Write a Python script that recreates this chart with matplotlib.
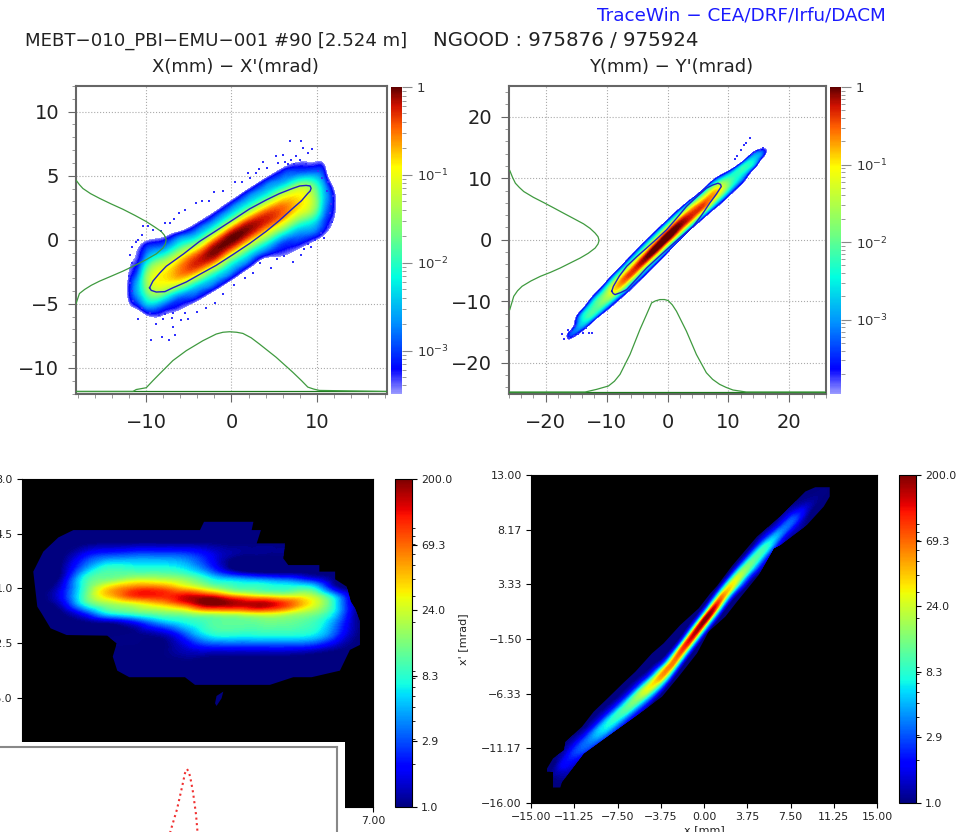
"""
TraceWin MEBT emittance comparison: two simulated phase spaces (top)
and two measured ones (bottom).
"""

import numpy as np
import matplotlib
matplotlib.use("Agg")
import matplotlib.pyplot as plt
from matplotlib.cm import ScalarMappable
from matplotlib.colors import LinearSegmentedColormap, LogNorm
from matplotlib.patches import Polygon, Rectangle
from matplotlib.ticker import MultipleLocator, NullFormatter
from matplotlib.tri import Triangulation, UniformTriRefiner

W, H = 960, 832

# ---- panel A, X - X' : log10 density on x stations / offsets from the beam axis
a_slope = 0.42
a_x = [-13, -12, -11, -10, -8, -6, -4, -2, 0, 2, 4, 6, 8, 10, 11, 12, 13]
a_v = [-5, -4, -3, -2, -1, 0, 1, 2, 3, 4, 5]
a_log = [
    [-5, -5, -5, -5, -5, -5, -5, -5, -5, -5, -5],
    [-5, -5, -5, -5, -4.5, -3.6, -3.3, -3.4, -3.6, -4, -5],
    [-5, -5, -5, -5, -3.8, -2.8, -2.5, -2.9, -3.3, -3.6, -5],
    [-5, -5, -5, -4, -2.7, -1.9, -1.6, -2, -2.8, -3.4, -5],
    [-5, -5, -4, -3.1, -1.9, -0.95, -1, -1.9, -3, -4, -5],
    [-5, -5, -3.6, -2.9, -1.4, -0.55, -0.9, -2, -3.2, -5, -5],
    [-5, -5, -3.4, -2.5, -1.0, -0.25, -1.0, -2.4, -3.5, -5, -5],
    [-5, -5, -3.3, -2.3, -0.8, -0.05, -0.9, -2.4, -3.5, -5, -5],
    [-5, -5, -3.3, -2.3, -0.9, 0, -0.8, -2.3, -3.4, -5, -5],
    [-5, -5, -3.4, -2.3, -0.9, -0.08, -0.9, -2.3, -3.3, -5, -5],
    [-5, -5, -3.4, -2.2, -0.85, -0.25, -1.1, -2.4, -3.3, -5, -5],
    [-5, -3.7, -3.1, -2.1, -0.8, -0.5, -1.3, -2.6, -3.4, -5, -5],
    [-5, -3.5, -2.8, -1.9, -0.95, -0.9, -1.7, -3, -3.8, -5, -5],
    [-5, -3.3, -2.6, -1.9, -1.7, -2, -2.8, -3.6, -5, -5, -5],
    [-5, -3.4, -3, -2.7, -2.6, -3, -3.5, -4.2, -5, -5, -5],
    [-5, -3.8, -3.4, -3.3, -3.6, -4.5, -5, -5, -5, -5, -5],
    [-5, -5, -5, -5, -5, -5, -5, -5, -5, -5, -5],
]
a_ell_x = [-9.59, -9.4, -8.81, -7.8, -6.86, -5.3, -3.74, -1.8, 0.16, 2.1, 4.05, 5.6, 7.17, 8.2, 8.93, 9.2, 9.32,
           9.2, 8.73, 8.0, 7.17, 5.6, 4.05, 2.1, 0.16, -1.8, -3.74, -5.6, -7.64, -8.4, -9.2, -9.59]
a_ell_y = [-3.75, -3.95, -4.08, -4.05, -3.75, -3.3, -2.71, -2.0, -1.16, -0.3, 0.65, 1.5, 2.45, 3.05, 3.62, 3.8, 4.01,
           4.2, 4.24, 4.2, 4.01, 3.6, 3.10, 2.4, 1.55, 0.7, -0.13, -1.1, -2.07, -2.6, -3.23, -3.75]
a_left_x = [-18.25, -17.8, -17.39, -16.5, -15.44, -14.1, -12.71, -11.3, -9.98, -9.0, -8.23, -7.85, -7.64, -7.75, -8.03,
            -8.8, -9.98, -11.3, -12.71, -14.1, -15.44, -16.4, -17.19, -17.8, -18.09, -18.2]
a_left_y = [4.70, 4.3, 4.0, 3.6, 3.23, 2.8, 2.38, 1.9, 1.42, 1.0, 0.65, 0.35, 0, -0.35, -0.65,
            -1.1, -1.55, -2.0, -2.45, -2.85, -3.23, -3.55, -3.88, -4.2, -4.78, -5.0]
a_bot_x = [-18.17, -11.54, -11.15, -9.98, -9.2, -8.42, -6.86, -5.3, -3.35, -1.79, -1.0, -0.23, 0.6, 1.33, 2.3, 3.27,
           5.22, 7.17, 8.2, 8.93, 9.6, 10.29, 18.09]
a_bot_y = [-11.84, -11.84, -11.69, -11.55, -11.0, -10.47, -9.43, -8.66, -7.88, -7.36, -7.22, -7.18, -7.22, -7.31, -7.65, -8.14,
           -9.17, -10.34, -11.0, -11.5, -11.65, -11.76, -11.84]
a_spk_x = [6.8, 8.1, 8.4, 8.9, 9.4, 5.2, 6.0, 7.0, 8.0, 3.7, 2.9, 1.9, -2.0, -2.6, -6.1, -6.7, -7.8, -10.4, -9.8, -11.0,
           -11.7, -11.7, -11.9, -11.5, -11.0, -9.4, -8.1, -7.3, -6.6, -8.8, -8.0, -6.9, -5.9, -5.1, -6.9, -1.9, 4.6, 3.3,
           7.2, 8.1, 9.3, 10.5, 11.5, 11.9, 11.3,
           5.5, 6.3, 6.6, 7.3, 7.6, 8.7, 9.5, 10.1, 10.6, 11.2, 11.6, 11.8, 11.3, 10.8, 9.8, 9.0, 8.5,
           6.1, 5.3, 2.5, 1.6, 0.3, -1, -3, -4, -5.5, -7, -7.8, -8.5, -9.5, -10.5, -11.6, -12, -11.9, -11.2, -10.5,
           -9.2, -8.2, -7.2, -5.5, -4.2, -3.5, -1, 0.4, 1.2, 2.2, 3.2, 4.2]
a_spk_y = [7.7, 7.7, 7.2, 6.8, 7.1, 6.5, 6.6, 6.2, 6.2, 6.1, 5.2, 5.2, 3.7, 3.0, 2.1, 1.6, 1.3, 1.1, 1.1, 0,
           -0.6, -1.8, -3.4, -4.8, -6.2, -7.8, -7.6, -7.8, -7.4, -6.6, -6.2, -6.8, -6.3, -6.2, -5.7, -4.9, -2.2, -1.8,
           -1.7, -1.2, -0.6, 0.5, 2.1, 3.4, 4.5,
           6.0, 6.1, 5.9, 5.9, 6.5, 5.9, 5.8, 5.4, 4.8, 3.8, 2.8, 1.4, 1.0, 0.1, 0, -0.3, -0.7,
           -1.3, -1.5, -2.6, -3, -3.5, -4.2, -5.3, -5.6, -5.7, -6.1, -5.8, -5.9, -5.7, -5.3, -4, -2.8, -1.2, -0.2, 0.4,
           0.8, 0.7, 1.3, 2.3, 2.9, 3.0, 3.8, 4.5, 4.5, 4.8, 5.5, 5.6]

# ---- panel B, Y - Y'
b_slope = 1.0
b_x = [-17, -16, -14, -12, -10, -8, -6, -4, -2, 0, 2, 4, 6, 8, 10, 12, 14, 15.5, 17]
b_v = [-4, -3, -2, -1, 0, 1, 2, 3, 4]
b_log = [
    [-5, -5, -5, -5, -5, -5, -5, -5, -5],
    [-5, -5, -5, -5, -3.8, -3.7, -5, -5, -5],
    [-5, -5, -5, -4.2, -2.9, -2.6, -3, -4.5, -5],
    [-5, -5, -5, -3.8, -2.3, -2.1, -2.5, -3.8, -5],
    [-5, -5, -4.5, -3.2, -1.9, -1.6, -2.2, -3.6, -5],
    [-5, -5, -4.2, -2.7, -1.1, -0.8, -1.7, -3.4, -5],
    [-5, -5, -3.9, -2.4, -0.7, -0.55, -1.7, -3.3, -5],
    [-5, -5, -3.8, -2.2, -0.5, -0.3, -1.6, -3.2, -5],
    [-5, -5, -3.8, -2, -0.2, -0.1, -1.5, -3.3, -5],
    [-5, -5, -3.8, -1.9, -0.05, -0.05, -1.5, -3.5, -5],
    [-5, -5, -3.8, -1.6, -0.15, -0.3, -1.8, -3.8, -5],
    [-5, -5, -3.7, -1.3, -0.3, -0.8, -2.4, -4.5, -5],
    [-5, -4.5, -3.2, -1.0, -0.5, -1.4, -3.2, -5, -5],
    [-5, -4.3, -2.7, -1.2, -0.9, -2, -3.8, -5, -5],
    [-5, -4, -2.6, -1.9, -2.2, -3.6, -5, -5, -5],
    [-5, -3.8, -2.8, -2.3, -2.9, -5, -5, -5, -5],
    [-5, -4.5, -2.9, -2.6, -3.6, -5, -5, -5, -5],
    [-5, -5, -3.6, -3.5, -5, -5, -5, -5, -5],
    [-5, -5, -5, -5, -5, -5, -5, -5, -5],
]
b_ell_x = [-9.15, -8.9, -8.61, -7.7, -6.70, -5.1, -3.43, -1.8, -0.16, 2.0, 4.19, 5.6, 6.92, 8.0, 8.82, 8.7, 8.28,
           7.4, 6.37, 4.7, 3.10, 1.5, -0.16, -1.8, -3.43, -5.1, -6.70, -7.9, -8.88, -9.15]
b_ell_y = [-8.38, -8.75, -8.92, -8.6, -8.11, -6.4, -4.59, -3.1, -1.62, 0.3, 2.16, 4.0, 5.95, 7.4, 8.65, 9.0, 9.19,
           8.9, 8.38, 6.9, 5.41, 3.5, 1.62, 0.1, -1.35, -2.8, -4.32, -5.9, -7.57, -8.38]
b_left_x = [-25.87, -25.4, -24.95, -24.3, -23.58, -22, -20.32, -18.7, -17.05, -15.4, -13.78, -12.7, -11.87, -11.4, -11.22,
            -11.4, -11.87, -13, -14.32, -16, -17.59, -19.2, -20.86, -22.4, -23.86, -24.6, -25.22, -25.87]
b_left_y = [11.24, 10.1, 9.19, 8.5, 7.84, 6.9, 6.05, 5.2, 4.32, 3.45, 2.59, 1.85, 1.08, 0.5, -0.11,
            -0.7, -1.35, -2.2, -2.97, -3.8, -4.59, -5.3, -5.95, -6.7, -7.57, -8.3, -9.19, -11.35]
b_bot_x = [-25.87, -13.51, -11.6, -9.69, -8.7, -7.79, -6.15, -4.52, -3.5, -2.61, -2, -1.25, -0.5, 0.11, 0.8, 1.47, 3.1, 4.74,
           6.37, 7.4, 8.55, 9.6, 10.73, 12.91, 25.71]
b_bot_y = [-24.76, -24.76, -24.32, -23.78, -23.0, -21.89, -18.65, -14.59, -12.3, -10.27, -9.95, -9.73, -9.72, -9.89, -10.6, -11.62, -14.86, -18.65,
           -21.62, -22.7, -23.51, -24.0, -24.43, -24.76, -24.76]
b_spk_x = [-17.3, -16.9, -16.2, -16.4, -15.4, -13.8, -12.9, -12.4, 12.9, 13.5, 12.6, 12.1, 15.6, 15.1,
           -15.9, -15.2, -14.6, -13.3, 11.4, 11.0, 14.4, 13.9]
b_spk_y = [-15.4, -16.2, -15.9, -14.6, -15.7, -15.1, -15.1, -15.1, 15.7, 16.5, 15.4, 14.6, 14.9, 14.6,
           -14.9, -14.1, -15.3, -14.4, 13.6, 13.1, 14.3, 14.0]

# ---- panel C, measured x - x' : log10 counts on a plain grid, outline of the lowest bin
c_x = [-7, -6.5, -5.5, -4.5, -3.5, -2.5, -1.5, -0.5, 0.5, 1.5, 2.5, 3.5, 4.5, 5.5, 6.5, 7]
c_y = [6, 5, 4, 3, 2, 1.5, 1, 0.5, 0, -0.5, -1, -2, -3, -4, -5, -6]
c_log = [
    [0, 0, 0, 0, 0, 0, 0, 0, 0, 0, 0, 0, 0, 0, 0, 0],
    [0, 0, 0, 0, 0, 0, 0, 0, 0, 0, 0, 0, 0, 0, 0, 0],
    [0, 0, 0, 0, .02, .02, .02, .02, .02, 0, 0, 0, 0, 0, 0, 0],
    [0, 0, 0, .35, .55, .6, .6, .55, .3, .05, 0, 0, 0, 0, 0, 0],
    [0, 0, .03, .75, 1.05, 1.05, 1.05, .95, .6, .2, .05, .04, .02, 0, 0, 0],
    [0, 0, .1, .95, 1.2, 1.4, 1.38, 1.25, .95, .8, .7, .6, .4, .03, 0, 0],
    [0, 0, .2, 1.0, 1.6, 1.85, 1.85, 1.6, 1.3, 1.05, 1.0, .95, .95, .2, 0, 0],
    [0, 0, .25, 1.05, 1.6, 1.95, 2.0, 2.1, 2.05, 1.7, 1.5, 1.4, 1.35, .7, 0, 0],
    [0, 0, .15, .9, 1.25, 1.4, 1.6, 1.9, 2.3, 2.2, 2.2, 1.95, 1.5, .85, 0, 0],
    [0, 0, .03, .45, .95, 1.1, 1.2, 1.3, 1.5, 1.55, 1.65, 1.5, 1.25, .8, 0, 0],
    [0, 0, 0, .1, .3, .5, .8, .95, 1.05, 1.1, 1.15, 1.15, 1.05, .65, .02, 0],
    [0, 0, 0, 0, 0, .05, .1, .45, .85, .9, .9, .9, .85, .45, .02, 0],
    [0, 0, 0, 0, 0, 0, .02, .15, .2, .2, .2, .2, .15, .04, 0, 0],
    [0, 0, 0, 0, 0, 0, 0, 0, 0, 0, 0, 0, 0, 0, 0, 0],
    [0, 0, 0, 0, 0, 0, 0, 0, 0, 0, 0, 0, 0, 0, 0, 0],
    [0, 0, 0, 0, 0, 0, 0, 0, 0, 0, 0, 0, 0, 0, 0, 0],
]
c_edge_x = [-6.55, -6.15, -5.55, -4.95, 0.10, 0.26, 2.23, 2.16, 2.53, 2.36, 3.49, 3.42, 3.62, 4.86, 4.86, 5.49, 5.49, 5.95,
            6.11, 6.28, 6.48, 6.48, 6.08, 5.68, 4.55, 3.82, 2.89, -0.10, -0.50, -2.72, -3.20, -3.38, -3.22, -3.60, -5.22,
            -5.86, -6.22, -6.39]
c_edge_y = [2.07, 3.35, 4.26, 4.73, 4.73, 5.26, 5.26, 4.73, 4.73, 3.88, 3.88, 2.92, 2.49, 2.49, 2.07, 2.07, 1.58, 1.11,
            0.15, -0.28, -1.13, -2.62, -2.94, -4.27, -4.69, -4.69, -5.18, -5.18, -4.69, -4.69, -4.27, -3.37, -2.52, -2.03,
            -1.99, -1.56, -0.60, -0.17]
c_spot_x = [0.76, 0.96, 1.03, 0.76, 0.7]
c_spot_y = [-6.53, -6.04, -5.61, -5.89, -6.36]

# ---- panel D, measured y - y' : log10 counts along the ridge of the beam
d_ridge_x = [-14, -13, -12.2, -11.2, -10, -8.7, -7, -5.2, -4, -2.9, -1.5, 0.26, 1.7, 3.15, 4.3, 5.46, 6.6, 7.8, 9.1, 10.4, 11.3]
d_ridge_y = [-14.2, -13.3, -12.55, -11.6, -10.55, -9.4, -7.9, -6.2, -5.05, -3.85, -1.95, 0.4, 2.35, 4.1, 5.4, 6.7, 7.9, 9.1, 10.3, 11.5, 12.3]
d_width = [1.4, 1.4, 1.45, 1.5, 1.55, 1.6, 1.55, 1.45, 1.35, 1.25, 1.2, 1.15, 1.2, 1.25, 1.3, 1.35, 1.4, 1.4, 1.3, 1.2, 1.2]
d_off = [-1.8, -1.2, -0.8, -0.4, 0, 0.4, 0.8, 1.2, 1.8]
d_log = [
    [0, 0, 0, 0, 0, 0, 0, 0, 0],
    [0, 0, .02, .05, .1, .05, .02, 0, 0],
    [0, .02, .1, .2, .3, .2, .1, .02, 0],
    [0, .02, .15, .3, .45, .35, .15, .02, 0],
    [0, .02, .2, .45, .6, .45, .15, .02, 0],
    [0, .02, .25, .6, .85, .6, .2, .02, 0],
    [0, .02, .3, .7, 1.05, .75, .25, .02, 0],
    [0, .02, .4, .95, 1.4, .95, .3, .02, 0],
    [0, .02, .5, 1.15, 1.65, 1.1, .35, .02, 0],
    [0, .02, .5, 1.25, 1.8, 1.2, .4, .02, 0],
    [0, .02, .5, 1.35, 2.05, 1.35, .4, .02, 0],
    [0, .02, .55, 1.5, 2.3, 1.5, .5, .02, 0],
    [0, .02, .5, 1.25, 1.75, 1.2, .45, .02, 0],
    [0, .02, .45, 1.0, 1.35, 1.0, .4, .02, 0],
    [0, .02, .4, .85, 1.1, .85, .35, .02, 0],
    [0, .02, .3, .7, .95, .65, .25, .02, 0],
    [0, .02, .2, .45, .65, .4, .15, .02, 0],
    [0, .02, .15, .35, .5, .3, .1, .02, 0],
    [0, 0, .03, .1, .15, .08, .03, 0, 0],
    [0, 0, .02, .03, .05, .03, .02, 0, 0],
    [0, 0, 0, 0, 0, 0, 0, 0, 0],
]
d_edge_x = [-13.61, -13.09, -12.11, -12.02, -10.58, -9.57, -8.27, -6.97, -5.95, -4.51, -3.50, -2.05, -0.46, 0.55, 1.13, 2.43,
            4.60, 6.62, 8.79, 9.65, 10.90, 10.90, 10.38, 8.93, 6.62, 6.04, 4.74, 2.86, 1.85, 0.40, -0.61, -2.20, -3.64,
            -5.81, -7.83, -10.43, -12.31, -12.46, -13.09, -13.09, -13.61]
d_edge_y = [-12.95, -12.06, -11.32, -10.59, -9.26, -7.93, -6.66, -5.36, -4.39, -2.77, -1.88, -0.26, 1.21, 2.54, 3.19, 4.96,
            7.56, 9.33, 11.54, 11.92, 11.92, 11.10, 10.21, 8.59, 6.82, 6.52, 4.16, 1.80, 0.48, -0.85, -2.77, -4.83, -6.60,
            -8.23, -9.70, -11.62, -14.13, -14.63, -14.63, -13.24, -13.24]
d_xticks = [-15, -11.25, -7.5, -3.75, 0, 3.75, 7.5, 11.25, 15]
d_yticks = [13, 8.17, 3.33, -1.5, -6.33, -11.17, -16]
c_yticks = [8, 4.5, 1, -2.5, -6, -9.5, -13]
c_xticks = [-7, -5.25, -3.5, -1.75, 0, 1.75, 3.5, 5.25, 7]

# ---- profile peeking out of the covering window (red dots)
win_x = [158, 165, 171, 177, 182, 185, 187, 189, 191, 193, 196, 199, 205]
win_y = [2, 18, 40, 60, 82, 96, 100, 97, 88, 77, 55, 20, 2]

cb_ticks = [1.0, 2.9, 8.3, 24.0, 69.3, 200.0]

trace_cmap = LinearSegmentedColormap.from_list(
    "tracewin",
    [(0.0, "#9a9aff"), (0.08, "#0000ff"), (0.23, "#0090ff"), (0.38, "#00ffe0"),
     (0.52, "#70ff80"), (0.74, "#ffff00"), (0.87, "#ff6000"), (0.94, "#d01000"), (1.0, "#600000")],
)


def px_axes(fig, left, top, right, bottom, **kw):
    """Axes given by pixel edges measured from the top left of the picture."""
    return fig.add_axes([left / W, 1 - bottom / H, (right - left) / W, (bottom - top) / H], **kw)


def draw_density(ax, X, Y, Z, vmin, vmax, cmap):
    nrow, ncol = Z.shape
    idx = np.arange(nrow * ncol).reshape(nrow, ncol)
    p0, p1 = idx[:-1, :-1].ravel(), idx[:-1, 1:].ravel()
    p2, p3 = idx[1:, :-1].ravel(), idx[1:, 1:].ravel()
    triangles = np.vstack([np.c_[p0, p1, p2], np.c_[p1, p3, p2]])
    tr = Triangulation(X.ravel(), Y.ravel(), triangles)
    fine, zfine = UniformTriRefiner(tr).refine_field(Z.ravel(), subdiv=3)
    levels = np.geomspace(vmin, vmax, 90)
    return ax.tricontourf(fine, np.clip(10.0 ** zfine, None, vmax), levels=levels, cmap=cmap,
                          norm=LogNorm(vmin, vmax), extend="max", zorder=2)


def sim_panel(fig, box, cbox, title, x, v, slope, log, vmin, xlim, ylim, xminor, yminor, xticks, yticks, ell, left, bot, spk):
    ax = px_axes(fig, *box)
    xs, vs = np.array(x, float), np.array(v, float)
    X = np.repeat(xs[:, None], len(vs), axis=1)
    Y = slope * X + vs[None, :]
    draw_density(ax, X, Y, np.array(log, float), vmin, 1.0, trace_cmap)
    ax.scatter(spk[0], spk[1], s=2.5, marker="s", color="#3030ff", linewidths=0, zorder=3)
    ax.plot(ell[0], ell[1], color="#1f1fc8", lw=1.0, zorder=4)
    ax.plot(left[0], left[1], color="#3f9a3f", lw=0.9, zorder=4)
    ax.plot(bot[0], bot[1], color="#3f9a3f", lw=0.9, zorder=4)
    ax.plot([xlim[0], xlim[1]], [bot[1][0], bot[1][0]], color="#1c7a1c", lw=0.9, zorder=3)
    ax.set_xlim(*xlim)
    ax.set_ylim(*ylim)
    ax.set_xticks(xticks)
    ax.set_yticks(yticks)
    ax.xaxis.set_minor_locator(MultipleLocator(xminor))
    ax.yaxis.set_minor_locator(MultipleLocator(yminor))
    ax.tick_params(axis="both", which="major", labelsize=14, length=6, color="#666666", labelcolor="#222222")
    ax.tick_params(axis="x", which="major", pad=8)
    ax.tick_params(axis="y", which="major", pad=6)
    ax.tick_params(axis="both", which="minor", length=3, color="#888888")
    ax.grid(True, which="major", color="#aaaaaa", ls=":", lw=0.8, zorder=1)
    ax.set_axisbelow(True)
    for sp in ax.spines.values():
        sp.set_color("#666666")
        sp.set_linewidth(1.5)
    ax.set_title(title, fontsize=13, pad=10, x=0.512, color="#222222")

    cax = px_axes(fig, *cbox)
    cb = fig.colorbar(ScalarMappable(LogNorm(vmin, 1.0), trace_cmap), cax=cax)
    cb.set_ticks([1, 0.1, 0.01, 0.001], labels=["1", r"$10^{-1}$", r"$10^{-2}$", r"$10^{-3}$"])
    cb.ax.yaxis.set_minor_formatter(NullFormatter())
    cb.ax.tick_params(which="major", labelsize=9.5, length=7, color="#888888", labelcolor="#333333")
    cb.ax.tick_params(which="minor", length=3, color="#888888")
    cb.outline.set_visible(False)
    return ax


def measured_panel(fig, box, cbox, X, Y, Z, edge, xlim, ylim, xticks, yticks, yfmt):
    ax = px_axes(fig, *box, facecolor="black")
    outline = Polygon(np.c_[edge[0], edge[1]], closed=True, facecolor="#00007f", edgecolor="none", zorder=1)
    ax.add_patch(outline)
    heat = draw_density(ax, X, Y, Z, 1.1, 200.0, "jet")
    heat.set_clip_path(outline)
    ax.set_xlim(*xlim)
    ax.set_ylim(*ylim)
    ax.set_xticks(xticks, [f"{t:.2f}".replace("-", "\u2212") for t in xticks])
    ax.set_yticks(yticks, [yfmt.format(t).replace("-", "\u2212") for t in yticks])
    ax.tick_params(labelsize=7.9, length=3.5, labelcolor="#222222", pad=3)

    cax = px_axes(fig, *cbox)
    cb = fig.colorbar(ScalarMappable(LogNorm(1.0, 200.0), "jet"), cax=cax)
    cb.set_ticks(cb_ticks, labels=[f"{t:.1f}" for t in cb_ticks])
    cb.ax.yaxis.set_minor_formatter(NullFormatter())
    cb.ax.tick_params(which="major", labelsize=7.9, length=3.5, labelcolor="#222222", pad=3)
    cb.ax.tick_params(which="minor", length=2)
    return ax


def main():
    fig = plt.figure(figsize=(W / 100, H / 100), dpi=100)

    sim_panel(fig, (76, 86, 387, 393.5), (391, 87, 402, 394), "X(mm) \u2212 X'(mrad)",
              a_x, a_v, a_slope, a_log, 3.2e-4, (-18.2, 18.2), (-12, 12), 2, 1,
              [-10, 0, 10], [-10, -5, 0, 5, 10], (a_ell_x, a_ell_y), (a_left_x, a_left_y),
              (a_bot_x, a_bot_y), (a_spk_x, a_spk_y))
    sim_panel(fig, (509, 86, 826, 393.5), (830, 87, 841, 394), "Y(mm) \u2212 Y'(mrad)",
              b_x, b_v, b_slope, b_log, 1.1e-4, (-26, 26), (-25, 25), 2, 2,
              [-20, -10, 0, 10, 20], [-20, -10, 0, 10, 20], (b_ell_x, b_ell_y), (b_left_x, b_left_y),
              (b_bot_x, b_bot_y), (b_spk_x, b_spk_y))

    fig.text(25 / W, 1 - 41 / H, "MEBT\u2212010_PBI\u2212EMU\u2212001 #90 [2.524 m]",
             fontsize=13.05, va="center", ha="left", color="#222222")
    fig.text(433 / W, 1 - 41 / H, "NGOOD : 975876 / 975924",
             fontsize=14.2, va="center", ha="left", color="#222222")
    fig.text(597 / W, 1 - 16 / H, "TraceWin \u2212 CEA/DRF/Irfu/DACM", fontsize=13.2, va="center", ha="left", color="#1a1aff")

    # measured x - x'
    CX, CY = np.meshgrid(np.array(c_x, float), np.array(c_y, float))
    ax_c = measured_panel(fig, (22, 479, 373, 807), (395, 479, 412, 807), CX, CY, np.array(c_log, float),
                          (c_edge_x, c_edge_y), (-7, 7), (-13, 8), c_xticks, c_yticks, "{:.1f}")
    ax_c.fill(c_spot_x, c_spot_y, color="#00007f", lw=0, zorder=2)

    # measured y - y'
    rx, ry = np.array(d_ridge_x), np.array(d_ridge_y)
    off = np.array(d_width)[:, None] * np.array(d_off)[None, :]
    DX = np.repeat(rx[:, None], len(d_off), axis=1)
    DY = ry[:, None] + off
    ax_d = measured_panel(fig, (531, 475, 877, 803), (899, 475, 916, 803), DX, DY, np.array(d_log, float),
                          (d_edge_x, d_edge_y), (-15, 15), (-16, 13), d_xticks, d_yticks, "{:.2f}")
    ax_d.set_xlabel("x [mm]", fontsize=8, labelpad=2, color="#222222")
    ax_d.set_ylabel("x' [mrad]", fontsize=8, color="#222222")
    ax_d.yaxis.set_label_coords((468 - 531) / 346, 0.5)

    # window lying over the lower left corner of the figure
    fig.add_artist(Rectangle((0, 0), 345 / W, 1 - 742 / H, transform=fig.transFigure,
                             facecolor="white", edgecolor="none", zorder=5))
    win = px_axes(fig, -20, 747, 337, 950, zorder=6)
    win.plot(win_x, win_y, color="#f03030", ls=":", lw=1.5)
    win.set_xlim(-20, 337)
    win.set_ylim(-80, 122)
    win.set_xticks([])
    win.set_yticks([])
    for sp in win.spines.values():
        sp.set_color("#888888")
        sp.set_linewidth(1.5)

    fig.savefig("out.png", dpi=100)


if __name__ == "__main__":
    main()
